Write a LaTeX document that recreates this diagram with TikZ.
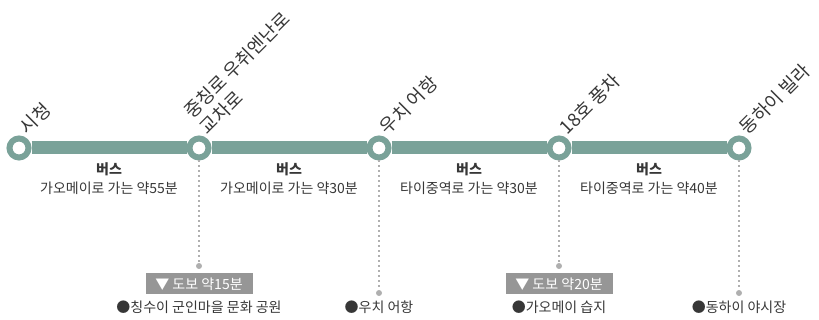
\documentclass[tikz,border=0pt]{standalone}
\usepackage{fontspec}
\setmainfont{Noto Sans CJK KR}
\usetikzlibrary{positioning, backgrounds}
\definecolor{linegreen}{RGB}{122,162,153}
\definecolor{txtgray}{RGB}{55,55,55}
\definecolor{boxgray}{RGB}{150,150,150}
\definecolor{dotgray}{RGB}{175,175,175}

\begin{document}
\begin{tikzpicture}[x=1pt, y=1pt, node distance=180pt, text=txtgray,
    font=\fontsize{14}{19}\selectfont,
    station/.style={circle, draw=linegreen, line width=6pt, fill=white, minimum size=19pt, inner sep=0pt},
    stname/.style={rotate=45, anchor=south west, align=left, inner sep=0pt, font=\fontsize{18.5}{22.5}\selectfont},
    track/.style={draw=linegreen, line width=13pt},
    seglabel/.style={anchor=north, align=center, inner sep=0pt, yshift=-14pt},
    walkline/.style={draw=dotgray, line width=1.5pt, dash pattern=on 1.5pt off 3.5pt},
    walkdot/.style={circle, fill=dotgray, minimum size=6pt, inner sep=0pt},
    walkbox/.style={fill=boxgray, text=white, minimum width=107pt, minimum height=21pt, inner sep=0pt, font=\fontsize{14}{16}\selectfont},
    place/.style={inner sep=0pt}]
    \useasboundingbox (0,0) rectangle (819,320);
    % Stations
    \node[station] (s1) at (19,172) {};
    \node[station, right of=s1] (s2) {};
    \node[station, right of=s2] (s3) {};
    \node[station, right of=s3] (s4) {};
    \node[station, right of=s4] (s5) {};
    \begin{scope}[on background layer]
        \foreach \a/\b in {s1/s2, s2/s3, s3/s4, s4/s5}
            \draw[track] (\a) -- (\b);
    \end{scope}
    
    % Station names
    \node[stname] (n1) at ([shift={(10,11)}]s1.center) {시청};
    \node[stname] (n2) at ([shift={(10,11)}]s2.center) {중칭로 우취엔난로\\교차로};
    \node[stname] (n3) at ([shift={(10,11)}]s3.center) {우치 어항};
    \node[stname] (n4) at ([shift={(10,11)}]s4.center) {18호 풍차};
    \node[stname] (n5) at ([shift={(10,11)}]s5.center) {동하이 빌라};
    
    % Bus legs
    \path (s1) -- node[seglabel] {\textbf{버스}\\가오메이로 가는 약55분} (s2);
    \path (s2) -- node[seglabel] {\textbf{버스}\\가오메이로 가는 약30분} (s3);
    \path (s3) -- node[seglabel] {\textbf{버스}\\타이중역로 가는 약30분} (s4);
    \path (s4) -- node[seglabel] {\textbf{버스}\\타이중역로 가는 약40분} (s5);
    
    % Walks to sights
    \coordinate (nearrow) at (0,54);
    \coordinate (farrow) at (0,27);
    \node[walkdot] (d2) at (s2 |- nearrow) {};
    \node[walkdot] (d3) at (s3 |- farrow) {};
    \node[walkdot] (d4) at (s4 |- nearrow) {};
    \node[walkdot] (d5) at (s5 |- farrow) {};
    \foreach \s/\d in {s2/d2, s3/d3, s4/d4, s5/d5}
        \draw[walkline] (\s.south) -- (\d);
    \node[walkbox] (b2) at ([yshift=-18pt]d2.center) {▼ 도보 약15분};
    \node[walkbox] (b4) at ([yshift=-18pt]d4.center) {▼ 도보 약20분};
    \coordinate (placerow) at (0,13);
    \node[place] (p2) at (s2 |- placerow) {●칭수이 군인마을 문화 공원};
    \node[place] (p3) at (s3 |- placerow) {●우치 어항};
    \node[place] (p4) at (s4 |- placerow) {●가오메이 습지};
    \node[place] (p5) at (s5 |- placerow) {●동하이 야시장};
\end{tikzpicture}
\end{document}
